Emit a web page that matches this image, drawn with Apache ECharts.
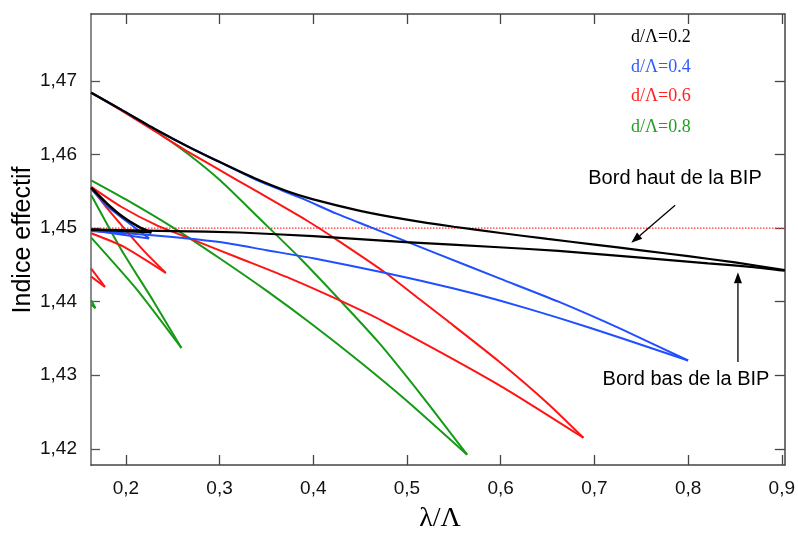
<!DOCTYPE html>
<html><head><meta charset="utf-8">
<script src="https://cdn.jsdelivr.net/npm/echarts@6/dist/echarts.min.js"></script>
<style>html,body{margin:0;padding:0;background:#fff}#c{width:798px;height:536px}</style>
</head><body><div id="c"></div>
<script>
// ---- axis ranges & ticks ----
const X_MIN = 0.1628, X_MAX = 0.9032;
const Y_MIN = 1.4178, Y_MAX = 1.4791;
const xTicks = [0.2, 0.3, 0.4, 0.5, 0.6, 0.7, 0.8, 0.9];
const yTicks = [1.42, 1.43, 1.44, 1.45, 1.46, 1.47];
const bandLevel = 1.45;
const legendLabels = ['d/Λ=0.2', 'd/Λ=0.4', 'd/Λ=0.6', 'd/Λ=0.8'];

// ---- d/Λ = 0.2 (black) ----
const k1Upper = [[0.163,1.4684],[0.195,1.4661],[0.2305,1.4635],[0.266,1.4611],[0.3014,1.4589],[0.3369,1.4568],[0.3723,1.4550],[0.4,1.4539],[0.45,1.45235],[0.5,1.45115],[0.55,1.45018],[0.6,1.44933],[0.65,1.44853],[0.7,1.44776],[0.75,1.44698],[0.8,1.44618],[0.85,1.44533],[0.9032,1.4443]];
const k1Lower = [[0.163,1.4498],[0.25,1.4496],[0.3213,1.4494],[0.4,1.4489],[0.4984,1.4481],[0.5979,1.4474],[0.6617,1.4469],[0.7397,1.4461],[0.8213,1.4452],[0.87,1.4447],[0.9032,1.4442]];
const k2Upper = [[0.163,1.4555],[0.1794,1.4534],[0.1971,1.4515],[0.2149,1.4501],[0.2273,1.4494]];
const k2Lower = [[0.163,1.4498],[0.2273,1.4494]];

// ---- d/Λ = 0.4 (blue) ----
const b1Upper = [[0.163,1.4684],[0.195,1.4661],[0.2305,1.4635],[0.266,1.4611],[0.3014,1.4589],[0.3369,1.4567],[0.3532,1.4558],[0.3886,1.4540],[0.4241,1.4520],[0.4596,1.4502],[0.5305,1.4466],[0.6,1.4431],[0.6617,1.4400],[0.73,1.4362],[0.8,1.4320]];
const b1Lower = [[0.163,1.4496],[0.2,1.4493],[0.25,1.4488],[0.3,1.4481],[0.35,1.4470],[0.4,1.4459],[0.4773,1.4439],[0.55,1.4418],[0.5979,1.4402],[0.6617,1.4378],[0.73,1.4350],[0.8,1.4320]];
const b2Upper = [[0.163,1.4553],[0.18,1.4530],[0.2,1.4510],[0.2248,1.4486]];
const b2Lower = [[0.163,1.4497],[0.2248,1.4486]];

// ---- d/Λ = 0.6 (red) ----
const r1Upper = [[0.163,1.4684],[0.195,1.4660],[0.2305,1.4632],[0.266,1.4604],[0.3191,1.4565],[0.3532,1.4540],[0.3922,1.4511],[0.4241,1.4485],[0.4773,1.4439],[0.5128,1.4404],[0.5411,1.4376],[0.5979,1.4319],[0.65,1.4262],[0.6883,1.4215]];
const r1Lower = [[0.163,1.4556],[0.195,1.4529],[0.2326,1.4504],[0.268,1.4486],[0.3213,1.4459],[0.3745,1.4432],[0.4277,1.4402],[0.4735,1.4374],[0.5979,1.4287],[0.6883,1.4215]];
const r2Upper = [[0.163,1.4555],[0.18,1.4527],[0.2,1.4497],[0.22,1.4468],[0.2426,1.4439]];
const r2Lower = [[0.163,1.4493],[0.1971,1.4475],[0.2426,1.4439]];
const r3Upper = [[0.163,1.4445],[0.1777,1.4420]];
const r3Lower = [[0.163,1.4434],[0.1777,1.4420]];

// ---- d/Λ = 0.8 (green) ----
const g1Upper = [[0.163,1.4684],[0.2,1.4657],[0.2305,1.4633],[0.266,1.4601],[0.3014,1.4564],[0.3426,1.4513],[0.3851,1.4460],[0.4277,1.4403],[0.4702,1.4344],[0.5172,1.4270],[0.5642,1.4192]];
const g1Lower = [[0.163,1.4565],[0.2,1.4539],[0.25,1.4501],[0.3,1.4459],[0.35,1.4415],[0.4,1.4368],[0.45,1.4318],[0.5,1.4265],[0.5642,1.4192]];
const g2Upper = [[0.163,1.4545],[0.195,1.4471],[0.2293,1.4401],[0.2593,1.4337]];
const g2Lower = [[0.163,1.4487],[0.2114,1.4417],[0.2593,1.4337]];
const g3Upper = [[0.163,1.4402],[0.1675,1.4391]];
const g3Lower = [[0.163,1.4396],[0.1675,1.4391]];

// ---- annotations (data coordinates) ----
const arrowHigh = {tail:[0.7862,1.4531], tip:[0.7394,1.4480]};
const arrowLow = {tail:[0.8532,1.4318], tip:[0.8532,1.4440]};

const COLORS = {k:'#000000', b:'#1f4fff', r:'#ff1414', g:'#169a16'};
const FONT = '"Liberation Sans", Arial, sans-serif';
const SERIF = '"Liberation Serif", "Times New Roman", serif';

const chart = echarts.init(document.getElementById('c'), null, {renderer:'canvas'});

function curve(data, color, width) {
  return {type:'line', data:data, showSymbol:false, symbol:'none', smooth:0.2,
    lineStyle:{color:color, width:width || 2}, itemStyle:{color:color}, animation:false, silent:true, z:3};
}

const series = [
  {type:'line', data:[[X_MIN,bandLevel],[X_MAX,bandLevel]], showSymbol:false, symbol:'none',
   lineStyle:{color:'#ff3030', width:1.2, type:[1.5,1.5]}, animation:false, silent:true, z:2},
  curve(g1Upper, COLORS.g), curve(g1Lower, COLORS.g), curve(g2Upper, COLORS.g), curve(g2Lower, COLORS.g),
  curve(g3Upper, COLORS.g), curve(g3Lower, COLORS.g),
  curve(r1Upper, COLORS.r), curve(r1Lower, COLORS.r), curve(r2Upper, COLORS.r), curve(r2Lower, COLORS.r),
  curve(r3Upper, COLORS.r), curve(r3Lower, COLORS.r),
  curve(b1Upper, COLORS.b), curve(b1Lower, COLORS.b), curve(b2Upper, COLORS.b), curve(b2Lower, COLORS.b),
  curve(k1Upper, COLORS.k, 2.2), curve(k1Lower, COLORS.k, 2.2), curve(k2Upper, COLORS.k, 2.6), curve(k2Lower, COLORS.k, 2.2)
];

const fmt = v => String(Math.round(v*100)/100).replace('.', ',');
const tickStyle = {color:'#444', width:1.3};

chart.setOption({
  backgroundColor:'#ffffff',
  animation:false,
  grid:{left:91, right:11, top:14, bottom:71, containLabel:false},
  xAxis:[
    {type:'value', min:X_MIN, max:X_MAX, position:'bottom',
     axisLine:{show:true, onZero:false, lineStyle:{color:'#444', width:1.5}},
     axisTick:{show:true, inside:true, length:10, customValues:xTicks, lineStyle:tickStyle},
     axisLabel:{show:true, customValues:xTicks, formatter:fmt, fontSize:19, color:'#111', fontFamily:FONT, margin:14},
     splitLine:{show:false}},
    {type:'value', min:X_MIN, max:X_MAX, position:'top',
     axisLine:{show:true, onZero:false, lineStyle:{color:'#444', width:1.5}},
     axisTick:{show:true, inside:true, length:10, customValues:xTicks, lineStyle:tickStyle},
     axisLabel:{show:false}, splitLine:{show:false}}
  ],
  yAxis:[
    {type:'value', min:Y_MIN, max:Y_MAX, position:'left',
     axisLine:{show:true, onZero:false, lineStyle:{color:'#8a8a8a', width:2}},
     axisTick:{show:true, inside:true, length:9, customValues:yTicks, lineStyle:{color:'#555', width:1.3}},
     axisLabel:{show:true, customValues:yTicks, formatter:fmt, fontSize:19, color:'#111', fontFamily:FONT, margin:14},
     splitLine:{show:false}},
    {type:'value', min:Y_MIN, max:Y_MAX, position:'right',
     axisLine:{show:true, onZero:false, lineStyle:{color:'#444', width:1.5}},
     axisTick:{show:true, inside:true, length:10, customValues:yTicks, lineStyle:tickStyle},
     axisLabel:{show:false}, splitLine:{show:false}}
  ],
  series:series
});

function arrow(a) {
  const p0 = chart.convertToPixel({xAxisIndex:0, yAxisIndex:0}, a.tail);
  const p1 = chart.convertToPixel({xAxisIndex:0, yAxisIndex:0}, a.tip);
  const dx = p1[0]-p0[0], dy = p1[1]-p0[1];
  const L = Math.sqrt(dx*dx+dy*dy), ux = dx/L, uy = dy/L;
  const hl = 11, hw = 4;
  const bx = p1[0]-ux*hl, by = p1[1]-uy*hl;
  return [
    {type:'line', shape:{x1:p0[0], y1:p0[1], x2:bx, y2:by}, style:{stroke:'#000', lineWidth:1.3}, z:10},
    {type:'polygon', shape:{points:[[p1[0],p1[1]],[bx-uy*hw, by+ux*hw],[bx+uy*hw, by-ux*hw]]}, style:{fill:'#000'}, z:10}
  ];
}

const legendColors = [COLORS.k, '#2b5cff', '#ff2020', '#1f9f1f'];
const legendY = [37, 67, 96, 127];
const graphics = [];
legendLabels.forEach((t,i) => graphics.push({type:'text', x:631, y:legendY[i], z:10,
  style:{text:t, fill:legendColors[i], font:'18px ' + SERIF, textAlign:'left', textVerticalAlign:'middle'}}));
graphics.push({type:'text', x:675, y:178, z:10, style:{text:'Bord haut de la BIP', fill:'#000', font:'20px ' + FONT, textAlign:'center', textVerticalAlign:'middle'}});
graphics.push({type:'text', x:686, y:379, z:10, style:{text:'Bord bas de la BIP', fill:'#000', font:'20px ' + FONT, textAlign:'center', textVerticalAlign:'middle'}});
graphics.push({type:'text', x:23, y:240, rotation:Math.PI/2, z:10, style:{text:'Indice effectif', fill:'#000', font:'25px ' + FONT, textAlign:'center', textVerticalAlign:'middle'}});
graphics.push({type:'text', x:440, y:519, z:10, style:{text:'λ/Λ', fill:'#000', font:'28px ' + SERIF, textAlign:'center', textVerticalAlign:'middle'}});
arrow(arrowHigh).forEach(g => graphics.push(g));
arrow(arrowLow).forEach(g => graphics.push(g));
chart.setOption({graphic:graphics});
</script></body></html>
